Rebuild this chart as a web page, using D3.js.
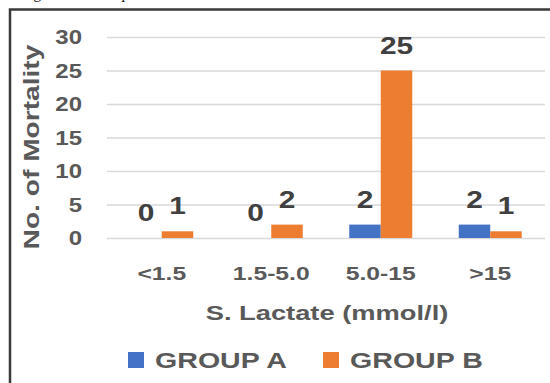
<!DOCTYPE html>
<html>
<head>
<meta charset="utf-8">
<script src="https://cdn.jsdelivr.net/npm/d3@7"></script>
<style>
  body { margin: 0; background: #fff; }
  svg { display: block; }
</style>
</head>
<body>
<div id="chart"></div>
<script>
// data
var categories = ["<1.5", "1.5-5.0", "5.0-15", ">15"];
var groups = ["GROUP A", "GROUP B"];
var groupA = [0, 0, 2, 2];
var groupB = [1, 2, 25, 1];
var yTicks = [0, 5, 10, 15, 20, 25, 30];
var colors = ["#4472C4", "#ED7D31"];

var width = 550, height = 383;
var font = "'Liberation Sans', Arial, sans-serif";

var svg = d3.select("#chart").append("svg")
    .attr("width", width)
    .attr("height", height);

// caption of the page above the figure, mostly cut off like in the scan
svg.append("text")
    .attr("x", 20)
    .attr("y", -2)
    .style("font-family", "'Liberation Serif', 'Times New Roman', serif")
    .style("font-size", "16px")
    .style("fill", "#222")
    .text("Figure 3: Chi-square statistics for S. Lactate levels");

// frame
svg.append("path")
    .attr("d", "M10," + (height + 5) + " L10,9.5 L" + (width + 5) + ",9.5")
    .style("fill", "none")
    .style("stroke", "#3a3a3a")
    .style("stroke-width", 2.5);

var plot = { left: 107, right: 545, top: 37, bottom: 238 };

var y = d3.scaleLinear().domain([0, 30]).range([plot.bottom, plot.top]);
var x0 = d3.scaleBand().domain(categories).range([plot.left, plot.right]).padding(0);
var barW = 31.5;
var x1 = d3.scaleBand().domain(groups)
    .range([x0.bandwidth() / 2 - barW, x0.bandwidth() / 2 + barW]);

// widened text helper (the source font renders wider than Arial)
function stretchText(sel, x, yy, sx, rot) {
    sel.attr("transform", "translate(" + x + "," + yy + ")" + (rot ? " rotate(" + rot + ")" : "") + " scale(" + sx + ",1)");
    return sel;
}

// gridlines
var yAxis = d3.axisLeft(y).tickValues(yTicks).tickSize(-(plot.right - plot.left)).tickFormat("");
var gy = svg.append("g")
    .attr("transform", "translate(" + plot.left + ",0)")
    .call(yAxis);
gy.select(".domain").remove();
gy.selectAll(".tick line")
    .style("stroke", "#d9d9d9")
    .style("stroke-width", 1.5);

// y tick labels
svg.selectAll(".ylab").data(yTicks).enter().append("text")
    .attr("class", "ylab")
    .each(function(d) { stretchText(d3.select(this), 82, y(d) + 7, 1.2); })
    .attr("text-anchor", "end")
    .style("font-family", font)
    .style("font-weight", "bold")
    .style("font-size", "20px")
    .style("fill", "#595959")
    .text(function(d) { return d; });

// bars
var rows = categories.map(function(c, i) {
    return { cat: c, vals: [groupA[i], groupB[i]] };
});

var cat = svg.selectAll(".cat").data(rows).enter().append("g")
    .attr("class", "cat")
    .attr("transform", function(d) { return "translate(" + x0(d.cat) + ",0)"; });

cat.selectAll("rect").data(function(d) {
    return d.vals.map(function(v, j) { return { g: groups[j], v: v, j: j }; });
}).enter().append("rect")
    .attr("x", function(d) { return x1(d.g); })
    .attr("y", function(d) { return y(d.v); })
    .attr("width", x1.bandwidth())
    .attr("height", function(d) { return y(0) - y(d.v); })
    .style("fill", function(d) { return colors[d.j]; });

cat.selectAll(".val").data(function(d) {
    return d.vals.map(function(v, j) { return { g: groups[j], v: v, j: j }; });
}).enter().append("text")
    .attr("class", "val")
    .each(function(d) {
        stretchText(d3.select(this), x1(d.g) + x1.bandwidth() / 2, y(d.v) - 17, 1.3);
    })
    .attr("text-anchor", "middle")
    .style("font-family", font)
    .style("font-weight", "bold")
    .style("font-size", "23px")
    .style("fill", "#404040")
    .text(function(d) { return d.v; });

// x labels
svg.selectAll(".xlab").data(categories).enter().append("text")
    .attr("class", "xlab")
    .each(function(d) { stretchText(d3.select(this), x0(d) + x0.bandwidth() / 2, 280, 1.3); })
    .attr("text-anchor", "middle")
    .style("font-family", font)
    .style("font-weight", "bold")
    .style("font-size", "19px")
    .style("fill", "#595959")
    .text(function(d) { return d; });

// axis titles
stretchText(svg.append("text"), 327, 320, 1.3)
    .attr("text-anchor", "middle")
    .style("font-family", font)
    .style("font-weight", "bold")
    .style("font-size", "21px")
    .style("fill", "#595959")
    .text("S. Lactate (mmol/l)");

stretchText(svg.append("text"), 39, 147, 1.28, -90)
    .attr("text-anchor", "middle")
    .style("font-family", font)
    .style("font-weight", "bold")
    .style("font-size", "22px")
    .style("fill", "#595959")
    .text("No. of Mortality");

// legend
var legendX = [128, 323];
var legend = svg.selectAll(".leg").data(groups).enter().append("g")
    .attr("class", "leg")
    .attr("transform", function(d, i) { return "translate(" + legendX[i] + ",352)"; });

legend.append("rect")
    .attr("width", 16)
    .attr("height", 16)
    .style("fill", function(d, i) { return colors[i]; });

legend.append("text")
    .each(function() { stretchText(d3.select(this), 27, 16, 1.3); })
    .style("font-family", font)
    .style("font-weight", "bold")
    .style("font-size", "22px")
    .style("fill", "#595959")
    .text(function(d) { return d; });
</script>
</body>
</html>
